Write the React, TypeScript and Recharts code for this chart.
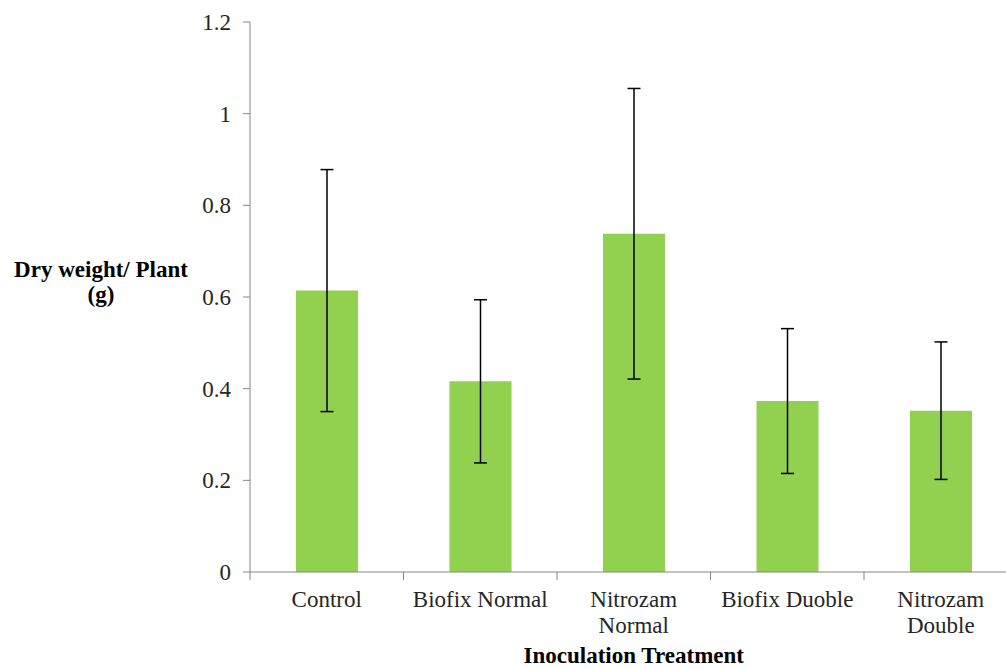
import { BarChart, Bar, XAxis, YAxis, ErrorBar } from 'recharts';

// values
const categories = ['Control', 'Biofix Normal', 'Nitrozam Normal', 'Biofix Duoble', 'Nitrozam Double'];
const tickLines = [['Control'], ['Biofix Normal'], ['Nitrozam', 'Normal'], ['Biofix Duoble'], ['Nitrozam', 'Double']];
const dryWeight = [0.614, 0.416, 0.738, 0.373, 0.352];
const stdError = [0.264, 0.178, 0.317, 0.158, 0.15];
const yTicks = [0, 0.2, 0.4, 0.6, 0.8, 1, 1.2];

const data = categories.map((name, i) => ({ name, value: dryWeight[i], err: stdError[i] }));

const FONT = 'Liberation Serif, Times New Roman, serif';
const AXIS = '#868686';
const TEXT = '#262626';

// category label + tick mark at the left edge of each band (Excel style)
function CategoryTick(props: any) {
  const { x, y, index, width, visibleTicksCount, payload } = props;
  const band = width / visibleTicksCount;
  const left = x - band / 2;
  const lines = tickLines[index] ?? [payload.value];
  return (
    <g>
      <line x1={left} y1={y - 8} x2={left} y2={y} stroke={AXIS} strokeWidth={1} />
      <text textAnchor="middle" fill={TEXT} style={{ fontSize: 23, fontFamily: FONT }}>
        {lines.map((l, i) => (
          <tspan key={i} x={x} y={y + 27 + i * 26}>
            {l}
          </tspan>
        ))}
      </text>
    </g>
  );
}

function YTitle(props: any) {
  const { viewBox } = props;
  const mid = viewBox.y + viewBox.height / 2;
  return (
    <text textAnchor="middle" fill="#000" style={{ fontSize: 23, fontWeight: 'bold', fontFamily: FONT }}>
      <tspan x={101} y={mid - 20}>Dry weight/ Plant</tspan>
      <tspan x={101} y={mid + 5}>(g)</tspan>
    </text>
  );
}

function XTitle(props: any) {
  const { viewBox } = props;
  return (
    <text
      x={viewBox.x + viewBox.width / 2}
      y={viewBox.y + 91}
      textAnchor="middle"
      fill="#000"
      style={{ fontSize: 23, fontWeight: 'bold', fontFamily: FONT }}
    >
      Inoculation Treatment
    </text>
  );
}

export default function App() {
  return (
    <div style={{ position: 'absolute', left: 0, top: 0, width: 1006, height: 669, overflow: 'hidden', background: '#fff' }}>
      <BarChart width={1030} height={669} data={data} margin={{ top: 22, right: 12.5, left: 0, bottom: 0 }}>
        <XAxis
          dataKey="name"
          height={97}
          stroke={AXIS}
          tickLine={false}
          tickSize={8}
          tickMargin={0}
          interval={0}
          tick={<CategoryTick />}
          label={<XTitle />}
        />
        <YAxis
          width={250}
          domain={[0, 1.2]}
          ticks={yTicks}
          stroke={AXIS}
          tickSize={7}
          tickMargin={12}
          tick={{ fill: TEXT, fontSize: 23, style: { fontFamily: FONT } }}
          label={<YTitle />}
        />
        <Bar dataKey="value" fill="#92D050" barSize={62} isAnimationActive={false}>
          <ErrorBar dataKey="err" width={6.5} stroke="#000" strokeWidth={1.5} direction="y" isAnimationActive={false} />
        </Bar>
      </BarChart>
    </div>
  );
}
